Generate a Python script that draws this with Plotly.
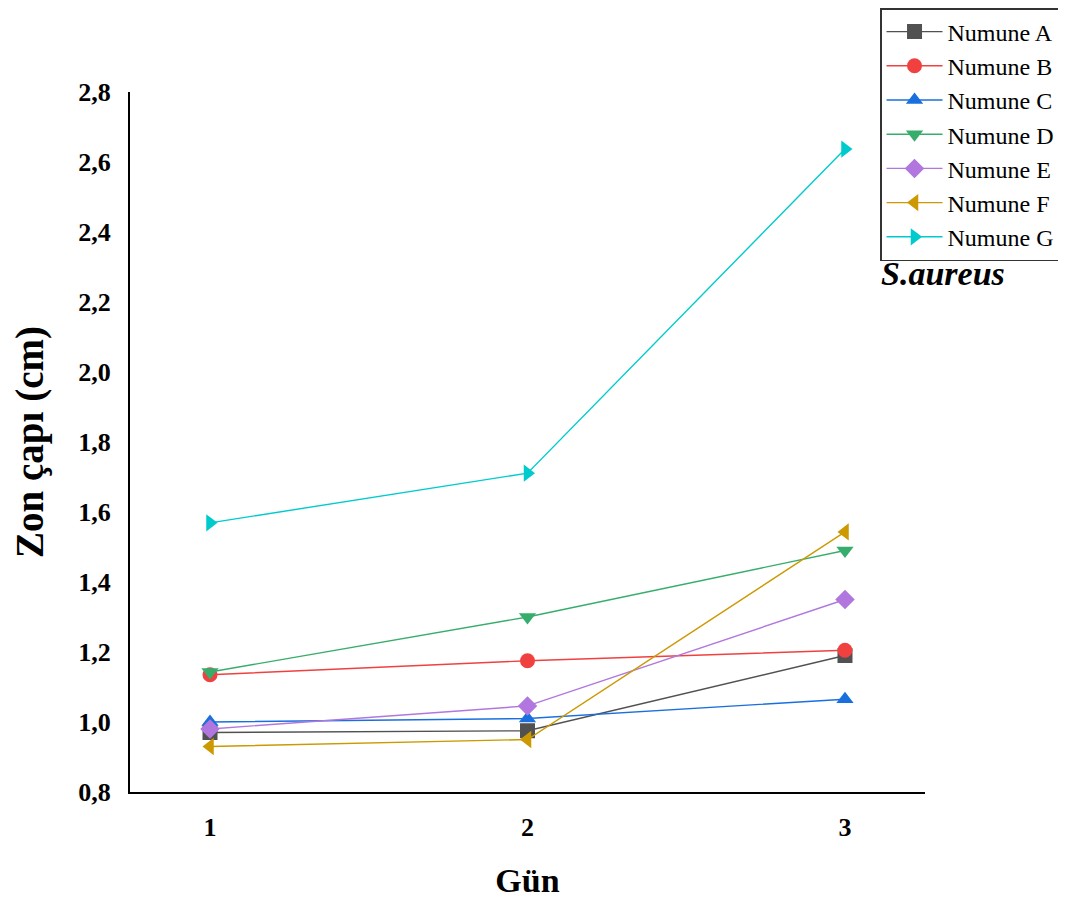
import plotly.graph_objects as go

days = [1, 2, 3]
series_names = ["Numune A", "Numune B", "Numune C", "Numune D", "Numune E", "Numune F", "Numune G"]
numune_a = [0.97, 0.975, 1.19]
numune_b = [1.135, 1.175, 1.205]
numune_c = [1.0, 1.01, 1.065]
numune_d = [1.143, 1.30, 1.49]
numune_e = [0.98, 1.046, 1.35]
numune_f = [0.93, 0.95, 1.543]
numune_g = [1.569, 1.711, 2.637]
y_ticks = [0.8, 1.0, 1.2, 1.4, 1.6, 1.8, 2.0, 2.2, 2.4, 2.6, 2.8]

series_values = [numune_a, numune_b, numune_c, numune_d, numune_e, numune_f, numune_g]
colors = ["#515151", "#F14040", "#1A6FDF", "#37AD6B", "#B177DE", "#CC9900", "#00CBCC"]
symbols = ["square", "circle", "triangle-up", "triangle-down", "diamond", "triangle-left", "triangle-right"]

FONT = "Liberation Serif, Times New Roman, serif"

fig = go.Figure()
for name, vals, col, sym in zip(series_names, series_values, colors, symbols):
    fig.add_trace(go.Scatter(
        x=days, y=vals, mode="lines+markers", name=name,
        line=dict(color=col, width=1.4),
        marker=dict(symbol=sym, size=15, color=col),
    ))

fig.update_layout(
    template="none",
    width=1050, height=891,
    paper_bgcolor="white", plot_bgcolor="white",
    margin=dict(l=122, r=133, t=84, b=107, autoexpand=False),
    separators=", ",
    showlegend=True,
    legend=dict(
        xref="container", yref="container",
        x=0.8305, y=1.0, xanchor="left", yanchor="top",
        bordercolor="#333333", borderwidth=1.5, bgcolor="white",
        font=dict(family=FONT, size=24, color="black"),
        itemwidth=56,
    ),
    xaxis=dict(
        range=[0.748, 3.252], tickvals=days, ticktext=[str(d) for d in days],
        automargin=False,
        showgrid=False, zeroline=False, showline=True, linecolor="black", linewidth=2,
        ticks="", ticklabelstandoff=11,
        tickfont=dict(family=FONT, size=26, color="black", weight="bold"),
        title=dict(text="Gün", font=dict(family=FONT, size=34, color="black", weight="bold"), standoff=35),
    ),
    yaxis=dict(
        range=[0.8, 2.8], tickvals=y_ticks, tickformat=".1f",
        automargin=False,
        showgrid=False, zeroline=False, showline=True, linecolor="black", linewidth=2,
        ticks="", ticklabelstandoff=12,
        tickfont=dict(family=FONT, size=26, color="black", weight="bold"),
        title=dict(text="Zon çapı (cm)", font=dict(family=FONT, size=39, color="black", weight="bold"), standoff=26),
    ),
    annotations=[dict(
        text="<b><i>S.aureus</i></b>", x=1.0226, y=0.7414, xref="paper", yref="paper",
        showarrow=False, xanchor="center", yanchor="middle",
        font=dict(family=FONT, size=34, color="black"),
    )],
)

fig.write_html("out.html")
